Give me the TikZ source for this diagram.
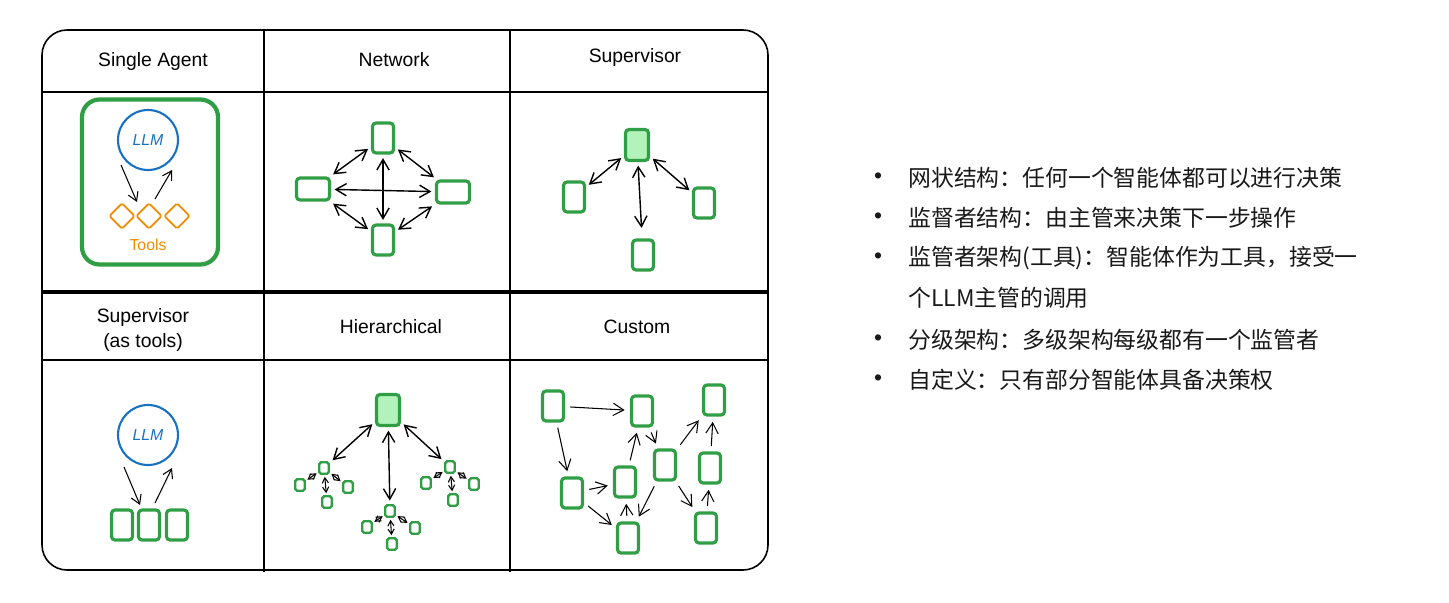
\documentclass[tikz,border=0pt]{standalone}
\usepackage{fontspec}
\setmainfont{Liberation Sans}
\newfontfamily\cjk{Noto Sans CJK SC}
\usetikzlibrary{arrows.meta,shapes.geometric,calc}
\definecolor{agreen}{HTML}{2F9E44}
\definecolor{afill}{HTML}{B2F2BB}
\definecolor{ablue}{HTML}{1971C2}
\definecolor{aorange}{HTML}{F08C00}
\begin{document}
\begin{tikzpicture}[x=0.02cm, y=-0.02cm, >={Straight Barb[length=6pt,width=7pt]},
  agent/.style={draw=agreen, line width=1.8pt, rounded corners=2pt, minimum width=0.42cm, minimum height=0.6cm, inner sep=0pt},
  boss/.style={agent, fill=afill, minimum width=0.46cm, minimum height=0.62cm},
  wide/.style={agent, minimum width=0.66cm, minimum height=0.44cm},
  leaf/.style={draw=agreen, line width=1.4pt, rounded corners=1pt, minimum width=0.19cm, minimum height=0.23cm, inner sep=0pt},
  llm/.style={circle, draw=ablue, line width=1.2pt, minimum size=1.2cm, inner sep=0pt, text=ablue, font=\small\itshape},
  tool/.style={diamond, draw=aorange, line width=1pt, rounded corners=1pt, minimum size=0.52cm, inner sep=0pt},
  head/.style={font=\fontsize{11}{14}\selectfont, align=center},
  item/.style={anchor=west, inner sep=0pt, text=black!90, font=\cjk\fontsize{13}{15}\selectfont},
  dot/.style={text=black!90, font=\fontsize{13}{15}\selectfont},
  link/.style={<->, thick, shorten <=2pt, shorten >=2pt},
  twig/.style={<->, semithick, >={Straight Barb[length=3pt,width=3.5pt]}, shorten <=1pt, shorten >=1pt},
  flow/.style={->, semithick, shorten <=3pt, shorten >=3pt},
  call/.style={->, semithick, >={Straight Barb[length=5pt,width=6pt]}}]
\useasboundingbox (0,0) rectangle (1449,602);
% table
\draw[line width=0.9pt, rounded corners=0.5cm] (42,30) rectangle (768,570);
\draw[line width=0.7pt] (264,30) -- (264,572) (510,30) -- (510,572);
\draw[line width=0.7pt] (42,92) -- (768,92) (42,360) -- (768,360);
\draw[line width=2.2pt] (42,292) -- (768,292);
\node[head] (h1) at (153,62) {Single Agent};
\node[head] (h2) at (394,60) {Network};
\node[head] (h3) at (635,58) {Supervisor};
\node[head] (h4) at (143,330) {Supervisor\\(as tools)};
\node[head] (h5) at (391,327) {Hierarchical};
\node[head] (h6) at (637,327) {Custom};
% single agent
\node[draw=agreen, line width=2.4pt, rounded corners=0.35cm, minimum width=2.72cm, minimum height=3.3cm] (sa) at (150,182) {};
\node[llm] (llm1) at (148,140) {LLM};
\node[tool] (t1) at (122,216) {};
\node[tool] (t2) at (149,216) {};
\node[tool] (t3) at (177,216) {};
\node[font=\small, text=aorange] (tl) at (148,245) {Tools};
\draw[call] ($(llm1)+(-27,25)$) -- ($(t2)+(-12,-14)$);
\draw[call] ($(t2)+(6,-17)$) -- ($(llm1)+(24,30)$);
% network
\node[agent] (nt) at (383,138) {};
\node[wide] (nl) at (313,189) {};
\node[wide] (nr) at (453,192) {};
\node[agent] (nb) at (383,240) {};
\draw[link] (nt) -- (nl);
\draw[link] (nt) -- (nr);
\draw[link] (nl) -- (nb);
\draw[link] (nr) -- (nb);
\draw[link] (nl) -- (nr);
\draw[link] (nt) -- (nb);
% supervisor
\node[boss] (sv) at (637,145) {};
\node[agent] (s1) at (574,197) {};
\node[agent] (s2) at (643,255) {};
\node[agent] (s3) at (704,203) {};
\draw[link] (sv) -- (s1);
\draw[link, shorten >=6pt] (sv) -- (s2);
\draw[link] (sv) -- (s3);
% supervisor as tools
\node[llm] (llm2) at (148,435) {LLM};
\node[agent] (w1) at (122,525) {};
\node[agent] (w2) at (149,525) {};
\node[agent] (w3) at (177,525) {};
\draw[call] ($(llm2)+(-24,32)$) -- ($(w2)+(-9,-20)$);
\draw[call] ($(w2)+(6,-22)$) -- ($(llm2)+(24,33)$);
% hierarchical
\node[boss] (hr) at (388,410) {};
\node[leaf] (ha) at (324,468) {};
\node[leaf] (hb) at (390,511) {};
\node[leaf] (hc) at (450,467) {};
\draw[link] (hr) -- (ha);
\draw[link] (hr) -- (hb);
\draw[link] (hr) -- (hc);
\node[leaf] (ha1) at (300,485) {};
\node[leaf] (ha2) at (327,502) {};
\node[leaf] (ha3) at (348,487) {};
\node[leaf] (hb1) at (367,527) {};
\node[leaf] (hb2) at (392,544) {};
\node[leaf] (hb3) at (415,528) {};
\node[leaf] (hc1) at (426,483) {};
\node[leaf] (hc2) at (453,500) {};
\node[leaf] (hc3) at (474,484) {};
\draw[twig] (ha) -- (ha1);
\draw[twig] (ha) -- (ha2);
\draw[twig] (ha) -- (ha3);
\draw[twig] (hb) -- (hb1);
\draw[twig] (hb) -- (hb2);
\draw[twig] (hb) -- (hb3);
\draw[twig] (hc) -- (hc1);
\draw[twig] (hc) -- (hc2);
\draw[twig] (hc) -- (hc3);
% custom
\node[agent] (ca) at (553,406) {};
\node[agent] (cb) at (642,411) {};
\node[agent] (cc) at (714,400) {};
\node[agent] (cd) at (572,493) {};
\node[agent] (ce) at (625,482) {};
\node[agent] (cf) at (665,465) {};
\node[agent] (cg) at (710,468) {};
\node[agent] (ch) at (628,538) {};
\node[agent] (ci) at (706,528) {};
\draw[flow] (ca) -- (cb);
\draw[flow] (ca) -- (cd);
\draw[flow] (cd) -- (ce);
\draw[flow] (cd) -- (ch);
\draw[flow] (ch) -- (ce);
\draw[flow] (ce) -- (cb);
\draw[flow] (cb) -- (cf);
\draw[flow] (cf) -- (cc);
\draw[flow] (cf) -- (ch);
\draw[flow] (cf) -- (ci);
\draw[flow] (ci) -- (cg);
\draw[flow] (cg) -- (cc);
% notes
\node[dot] (d1) at (878,178) {•};
\node[dot] (d2) at (878,218) {•};
\node[dot] (d3) at (878,258) {•};
\node[dot] (d4) at (878,340) {•};
\node[dot] (d5) at (878,380) {•};
\node[item] (l1) at (908,178) {网状结构：任何一个智能体都可以进行决策};
\node[item] (l2) at (908,218) {监督者结构：由主管来决策下一步操作};
\node[item] (l3) at (908,258) {监管者架构(工具)：智能体作为工具，接受一};
\node[item] (l3b) at (908,298) {个LLM主管的调用};
\node[item] (l4) at (908,340) {分级架构：多级架构每级都有一个监管者};
\node[item] (l5) at (908,380) {自定义：只有部分智能体具备决策权};
\end{tikzpicture}
\end{document}
